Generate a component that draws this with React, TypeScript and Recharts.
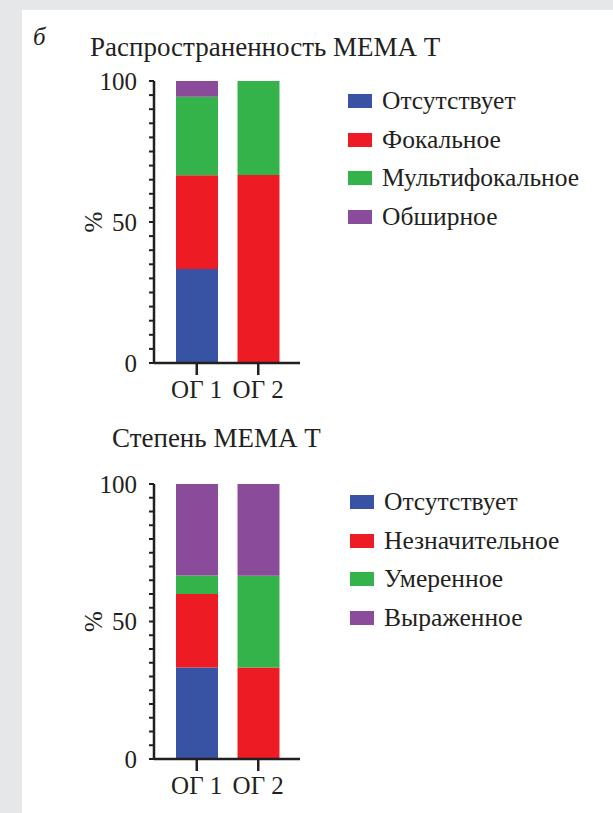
import React from "react";
import { BarChart, Bar, XAxis, YAxis, Legend, Label } from "recharts";

const groups = ["ОГ 1", "ОГ 2"];
const yTicks = [0, 5, 10, 15, 20, 25, 30, 35, 40, 45, 50, 55, 60, 65, 70, 75, 80, 85, 90, 95, 100];
const colors = ["#3953a4", "#ed1c24", "#33b34a", "#8b4b9b"];

const spreadTitle = "Распространенность МЕМА Т";
const spreadLabels = ["Отсутствует", "Фокальное", "Мультифокальное", "Обширное"];
const spreadOG1 = [33.3, 33.3, 27.8, 5.6];
const spreadOG2 = [0, 66.7, 33.3, 0];

const degreeTitle = "Степень МЕМА Т";
const degreeLabels = ["Отсутствует", "Незначительное", "Умеренное", "Выраженное"];
const degreeOG1 = [33.3, 26.7, 6.7, 33.3];
const degreeOG2 = [0, 33.3, 33.3, 33.4];

const ink = "#231f20";
const font = "'Liberation Serif', 'Times New Roman', serif";

const toRows = (og1: number[], og2: number[]) =>
  groups.map((g, i) => {
    const vals = i === 0 ? og1 : og2;
    const row: Record<string, string | number> = { group: g };
    vals.forEach((v, k) => (row["s" + k] = v));
    return row;
  });

interface PanelProps {
  labels: string[];
  og1: number[];
  og2: number[];
  top: number;
  marginTop: number;
  marginBottom: number;
  legendTop: number;
  legendLeft: number;
}

const Panel: React.FC<PanelProps> = ({ labels, og1, og2, top, marginTop, marginBottom, legendTop, legendLeft }) => {
  const data = toRows(og1, og2);
  return (
    <div style={{ position: "absolute", left: 0, top }}>
      <BarChart
        width={613}
        height={420}
        data={data}
        margin={{ top: marginTop, right: 313, left: 94, bottom: marginBottom }}
        barSize={42}
      >
        <XAxis
          dataKey="group"
          height={50}
          padding={{ left: 12, right: 11 }}
          axisLine={{ stroke: ink, strokeWidth: 2.5 }}
          tickLine={{ stroke: ink, strokeWidth: 2.5 }}
          tickSize={12}
          tickMargin={5}
          tick={{ fill: ink, fontSize: 25, fontFamily: font }}
        />
        <YAxis
          width={60}
          type="number"
          domain={[0, 100]}
          ticks={yTicks}
          interval={0}
          tickFormatter={(v: number) => (v % 50 === 0 ? String(v) : "")}
          axisLine={{ stroke: ink, strokeWidth: 2.5 }}
          tickLine={{ stroke: ink, strokeWidth: 2 }}
          tickSize={5}
          tickMargin={12}
          tick={{ fill: ink, fontSize: 25, fontFamily: font }}
        >
          <Label
            content={({ viewBox }: any) => {
              const cx = viewBox.x - 1;
              const cy = viewBox.y + viewBox.height / 2;
              return (
                <text
                  x={cx}
                  y={cy}
                  transform={`rotate(-90 ${cx} ${cy})`}
                  textAnchor="middle"
                  dominantBaseline="central"
                  fill={ink}
                  fontSize={25}
                  fontFamily={font}
                >
                  %
                </text>
              );
            }}
          />
        </YAxis>
        <Legend
          layout="horizontal"
          verticalAlign="middle"
          wrapperStyle={{ position: "absolute", left: legendLeft, top: legendTop, width: 265, height: 160 }}
          content={() => (
            <div style={{ fontFamily: font, color: ink, fontSize: 25.5, whiteSpace: "nowrap" }}>
              {labels.map((l, i) => (
                <div key={l} style={{ display: "flex", alignItems: "center", height: 38.5 }}>
                  <span style={{ display: "inline-block", width: 24, height: 14, background: colors[i], marginRight: 10 }} />
                  <span>{l}</span>
                </div>
              ))}
            </div>
          )}
        />
        {labels.map((l, i) => (
          <Bar key={l} dataKey={"s" + i} name={l} stackId="a" fill={colors[i]} isAnimationActive={false} />
        ))}
      </BarChart>
    </div>
  );
};

export default function App() {
  return (
    <div style={{ position: "absolute", left: 0, top: 0, width: 613, height: 813, background: "#e6e7e8", overflow: "hidden" }}>
      <div style={{ position: "absolute", left: 22, top: 10, right: 0, bottom: 0, background: "#fff" }} />
      <div style={{ position: "absolute", left: 33, top: 24, fontFamily: font, fontStyle: "italic", fontSize: 25, color: ink, lineHeight: 1 }}>
        б
      </div>
      <div style={{ position: "absolute", left: 90, top: 34, fontFamily: font, fontSize: 27, color: ink, lineHeight: 1, whiteSpace: "nowrap" }}>
        {spreadTitle}
      </div>
      <Panel labels={spreadLabels} og1={spreadOG1} og2={spreadOG2} top={0} marginTop={81} marginBottom={7} legendTop={82} legendLeft={348} />
      <div style={{ position: "absolute", left: 112, top: 425, fontFamily: font, fontSize: 27, color: ink, lineHeight: 1, whiteSpace: "nowrap" }}>
        {degreeTitle}
      </div>
      <Panel labels={degreeLabels} og1={degreeOG1} og2={degreeOG2} top={400} marginTop={84} marginBottom={11} legendTop={83} legendLeft={350} />
    </div>
  );
}
